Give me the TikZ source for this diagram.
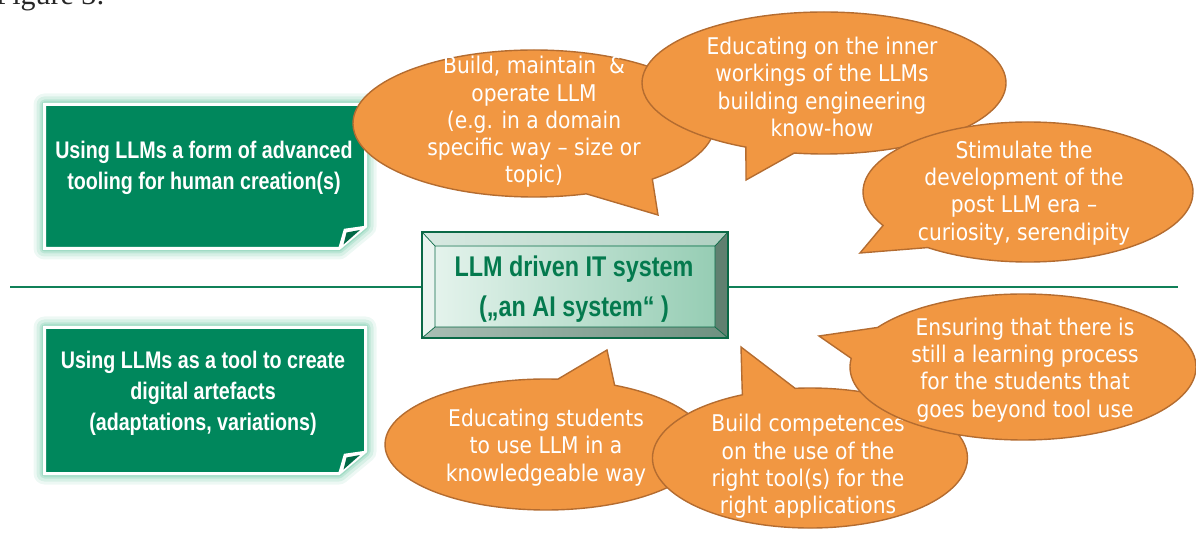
\documentclass[tikz,border=0pt]{standalone}
\usepackage{fontspec}
\setmainfont{DejaVu Sans}
\newfontfamily\bubblefont[FakeStretch=0.88]{DejaVu Sans}
\newfontfamily\boxfont[FakeStretch=0.82]{Liberation Sans}
\newfontfamily\capfont{Liberation Serif}
\usetikzlibrary{shapes.callouts}

\definecolor{bubblefill}{RGB}{241,151,66}
\definecolor{bubbleedge}{RGB}{180,108,48}
\definecolor{boxgreen}{RGB}{0,135,92}
\definecolor{glowgreen}{RGB}{110,200,165}
\definecolor{flapgreen}{RGB}{0,105,70}
\definecolor{rulegreen}{RGB}{16,128,88}
\definecolor{framegreen}{RGB}{10,105,70}
\definecolor{titlegreen}{RGB}{4,122,78}
\definecolor{faceleft}{RGB}{228,243,236}
\definecolor{faceright}{RGB}{150,205,180}
\definecolor{bevtopL}{RGB}{215,233,225}
\definecolor{bevtopR}{RGB}{175,208,193}
\definecolor{bevleft}{RGB}{234,245,240}
\definecolor{bevright}{RGB}{96,128,112}
\definecolor{bevbotL}{RGB}{170,190,180}
\definecolor{bevbotR}{RGB}{110,145,128}

% green note panel with a folded lower-right corner: #1 = top, #2 = bottom
\newcommand\panelpath[2]{(44.5,#1) -- (365.5,#1) -- (365.5,#2-22) -- (339,#2) -- (44.5,#2) -- cycle}
\newcommand\notepanel[2]{%
  \foreach \w/\o in {22/0.12,16/0.18,10/0.25,6/0.35}
    \draw[glowgreen, line width=\w pt, opacity=\o, line join=round] \panelpath{#1}{#2};
  \draw[white, line width=3pt, fill=boxgreen, line join=miter] \panelpath{#1}{#2};
  \draw[white, line width=1.5pt, fill=white, line join=round]
    (339,#2) -- (344.5,#2-19) -- (365.5,#2-22) -- cycle;
  \fill[flapgreen] (343.5,#2-4) -- (346.5,#2-16) -- (360,#2-18.5) -- cycle;
}

\tikzset{
  bubble/.style={shape=ellipse callout, draw=bubbleedge, fill=bubblefill,
    line width=1.4pt, inner sep=0pt, outer sep=0pt},
  btext/.style={font=\bubblefont\fontsize{23}{27.3}\selectfont, text=white,
    align=center, inner sep=0pt},
  paneltext/.style={font=\boxfont\bfseries\fontsize{24}{31}\selectfont,
    text=white, align=center, inner sep=0pt},
  coretext/.style={font=\boxfont\bfseries\fontsize{28.5}{40}\selectfont,
    text=titlegreen, align=center, inner sep=0pt},
}

\begin{document}
\begin{tikzpicture}[x=1pt, y=-1pt]
\useasboundingbox (0,0) rectangle (1196,534);
\clip (0,0) rectangle (1196,534);

% caption line of the surrounding page
\node[anchor=base east, inner sep=0pt, font=\capfont\fontsize{30}{32}\selectfont,
  text=black!85] (caption) at (105,4.5) {Figure 3:};

% dividing rule
\coordinate (ruleL) at (10,287);
\coordinate (ruleR) at (1178,287);
\draw[rulegreen, line width=2pt] (ruleL) -- (ruleR);

% left-hand panels
\notepanel{104.5}{248.5}
\node[paneltext] (upper) at (204,167.5)
  {Using LLMs a form of advanced\\tooling for human creation(s)};
\notepanel{327.5}{473.5}
\node[paneltext] (lower) at (203,393.5)
  {Using LLMs as a tool to create\\digital artefacts\\(adaptations, variations)};

% bevelled centre block
\fill[bevleft] (422,232) -- (435,246) -- (435,327) -- (422,338) -- cycle;
\shade[left color=bevtopL, right color=bevtopR] (422,232) -- (728,232) -- (715,246) -- (435,246) -- cycle;
\fill[bevright] (728,232) -- (728,338) -- (715,327) -- (715,246) -- cycle;
\shade[left color=bevbotL, right color=bevbotR] (422,338) -- (435,327) -- (715,327) -- (728,338) -- cycle;
\shade[left color=faceleft, right color=faceright] (435,246) rectangle (715,327);
\draw[framegreen, line width=0.7pt] (435,246) rectangle (715,327)
  (422,232) -- (435,246) (728,232) -- (715,246) (422,338) -- (435,327) (728,338) -- (715,327);
\draw[framegreen, line width=2pt] (422,232) rectangle (728,338);
\node[coretext] (core) at (574,289.5) {LLM driven IT system\\(„an AI system“ )};

% upper speech bubbles
\node[bubble, minimum width=362, minimum height=147,
  callout absolute pointer={(658,215)}, callout pointer arc=24] (b1) at (534,123.5) {};
\node[btext] (t1) at (534,122)
  {Build, maintain \ \&\\operate LLM\\(e.g. in a domain\\specific way – size or\\topic)};
\node[bubble, minimum width=364, minimum height=142,
  callout absolute pointer={(746,180)}, callout pointer arc=16] (b2) at (824,83) {};
\node[btext] (t2) at (822,87)
  {Educating on the inner\\workings of the LLMs\\building engineering\\know-how};
\node[bubble, minimum width=330, minimum height=140,
  callout absolute pointer={(860,253)}, callout pointer arc=24] (b3) at (1028,192) {};
\node[btext] (t3) at (1024,193)
  {Stimulate the\\development of the\\post LLM era –\\curiosity, serendipity};

% lower speech bubbles
\node[bubble, minimum width=322, minimum height=131,
  callout absolute pointer={(607,350)}, callout pointer arc=21] (b4) at (546,444.5) {};
\node[btext] (t4) at (546,447.5)
  {Educating students\\to use LLM in a\\knowledgeable way};
\node[bubble, minimum width=315, minimum height=140,
  callout absolute pointer={(741,347)}, callout pointer arc=20] (b5) at (810,458) {};
\node[btext] (t5) at (808,466.5)
  {Build competences\\on the use of the\\right tool(s) for the\\right applications};
\node[bubble, minimum width=346, minimum height=146,
  callout absolute pointer={(819,336)}, callout pointer arc=26] (b6) at (1023,367) {};
\node[btext] (t6) at (1025,370)
  {Ensuring that there is\\still a learning process\\for the students that\\goes beyond tool use};
\end{tikzpicture}
\end{document}
